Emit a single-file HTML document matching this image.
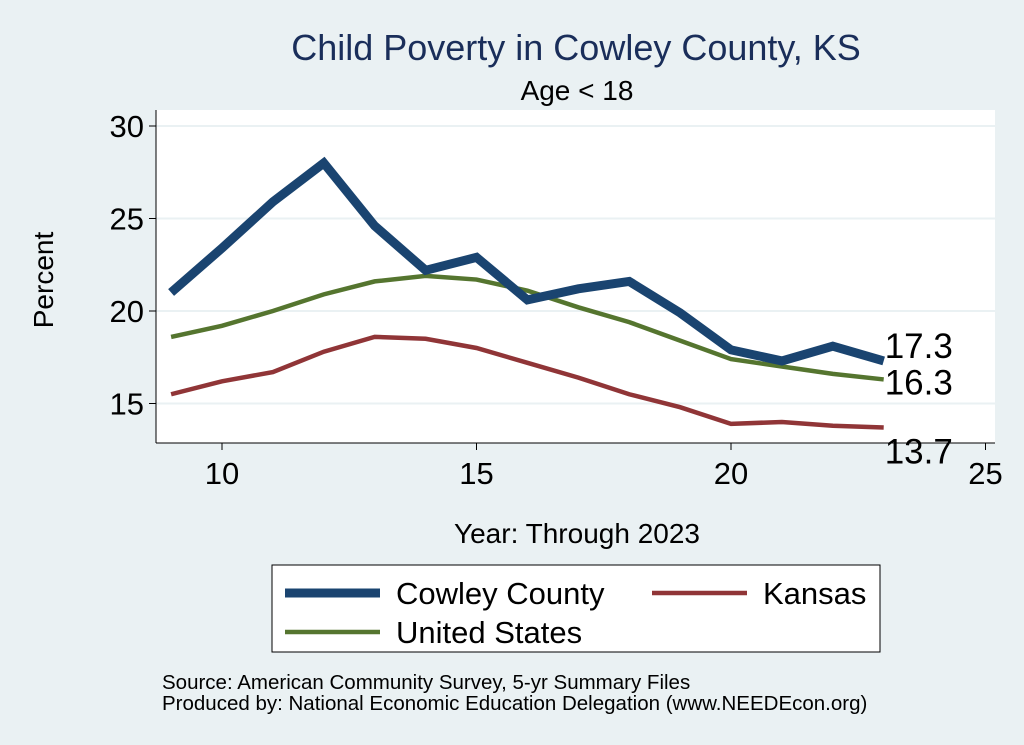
<!DOCTYPE html>
<html><head><meta charset="utf-8"><style>
body{margin:0;background:#eaf1f3;}
svg{display:block;font-family:"Liberation Sans",sans-serif;}
</style></head><body>
<svg width="1024" height="745">
<rect x="0" y="0" width="1024" height="745" fill="#eaf1f3"/>
<text x="576" y="60" font-size="36" fill="#1a2e5a" text-anchor="middle">Child Poverty in Cowley County, KS</text>
<text x="577" y="100" font-size="28" fill="#000" text-anchor="middle">Age &lt; 18</text>
<rect x="156" y="110" width="839" height="333" fill="#fff"/>
<g id="grid"></g>
<line x1="156" y1="110" x2="156" y2="443" stroke="#000" stroke-width="1"/>
<line x1="156" y1="443" x2="995" y2="443" stroke="#000" stroke-width="1"/>
<g id="ticks"></g>
<g id="lines"></g>
<text x="53" y="280" font-size="28" text-anchor="middle" transform="rotate(-90 53 280)">Percent</text>
<text x="577" y="543" font-size="28" text-anchor="middle">Year: Through 2023</text>
<rect x="272" y="565" width="608" height="87" fill="#fff" stroke="#000" stroke-width="1"/>
<g><line x1="285" y1="593" x2="380" y2="593" stroke="#1a4470" stroke-width="9"/><text x="396" y="604" font-size="31">Cowley County</text></g>
<g><line x1="652" y1="593" x2="747" y2="593" stroke="#903537" stroke-width="4.5"/><text x="763" y="604" font-size="31">Kansas</text></g>
<g><line x1="285" y1="632" x2="380" y2="632" stroke="#55752f" stroke-width="4.5"/><text x="396" y="643" font-size="31">United States</text></g>
<text x="162" y="689" font-size="20.5">Source: American Community Survey, 5-yr Summary Files</text>
<text x="162" y="710" font-size="20.5">Produced by: National Economic Education Delegation (www.NEEDEcon.org)</text>
</svg>
<script>
const years=[9,10,11,12,13,14,15,16,17,18,19,20,21,22,23];
const cowley=[21.0,23.4,25.9,28.0,24.6,22.2,22.9,20.6,21.2,21.6,19.9,17.9,17.3,18.1,17.3];
const us=[18.6,19.2,20.0,20.9,21.6,21.9,21.7,21.1,20.2,19.4,18.4,17.4,17.0,16.6,16.3];
const kansas=[15.5,16.2,16.7,17.8,18.6,18.5,18.0,17.2,16.4,15.5,14.8,13.9,14.0,13.8,13.7];
const xTicks=[10,15,20,25];
const yTicks=[15,20,25,30];
const NS='http://www.w3.org/2000/svg';
const X=v=>222+(v-10)*50.9;
const Y=v=>311-(v-20)*18.5;
function mk(t,a,p){const e=document.createElementNS(NS,t);for(const k in a)e.setAttribute(k,a[k]);p.appendChild(e);return e;}
const grid=document.getElementById('grid'),ticks=document.getElementById('ticks'),lines=document.getElementById('lines');
yTicks.forEach(v=>{
 const g=mk('line',{x1:156,x2:995,y1:Y(v),y2:Y(v),stroke:'#eaf1f3','stroke-width':2},grid);
 
 
 mk('line',{x1:149,x2:156,y1:Y(v),y2:Y(v),stroke:'#000'},ticks);
 const t=mk('text',{x:144,y:Y(v)+11,'font-size':31,'text-anchor':'end'},ticks);t.textContent=v;
 
 
});
xTicks.forEach(v=>{
 mk('line',{x1:X(v),x2:X(v),y1:443,y2:450,stroke:'#000'},ticks);
 const t=mk('text',{x:X(v),y:484,'font-size':31,'text-anchor':'middle'},ticks);t.textContent=v;
 
 
});
function series(d,col,w,name){
 const p=mk('polyline',{points:d.map((v,i)=>X(years[i])+','+Y(v)).join(' '),fill:'none',stroke:col,'stroke-width':w,'stroke-linejoin':'miter'},lines);
 
 
}
series(kansas,'#903537',4.5,'kansas-line');
series(us,'#55752f',4.5,'us-line');
series(cowley,'#1a4470',9,'cowley-line');
const n=years.length-1;
[[cowley,-3,'cowley-end-label'],[us,15,'us-end-label'],[kansas,36,'kansas-end-label']].forEach(([d,dy,nm])=>{
 const t=mk('text',{x:X(years[n])+1,y:Y(d[n])+dy,'font-size':35},lines);t.textContent=d[n].toFixed(1);
 
 
});
</script>
</body></html>
